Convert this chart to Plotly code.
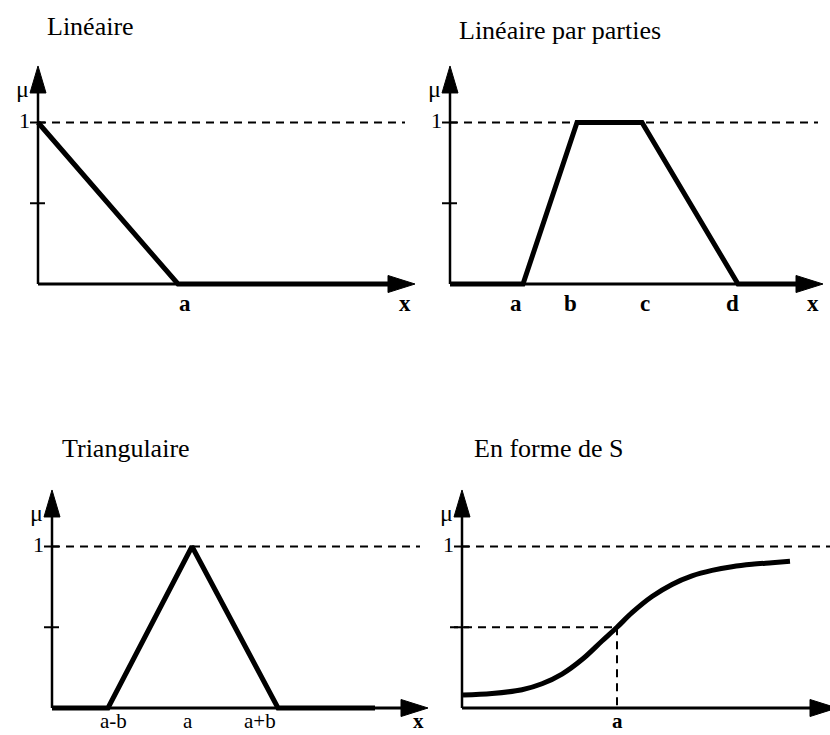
import plotly.graph_objects as go

# ---- Membership functions (x in abstract units, mu in [0, 1]) ----

# Linéaire
lin_x = [0.0, 14.0, 35.0]
lin_mu = [1.0, 0.0, 0.0]
lin_labels = ["a"]
lin_label_x = [14.0]

# Linéaire par parties (trapèze)
trap_x = [0.0, 7.3, 12.7, 19.2, 28.8, 34.8]
trap_mu = [0.0, 0.0, 1.0, 1.0, 0.0, 0.0]
trap_labels = ["a", "b", "c", "d"]
trap_label_x = [7.3, 12.7, 19.2, 28.8]

# Triangulaire
tri_x = [0.0, 5.6, 14.0, 22.6, 32.3]
tri_mu = [0.0, 0.0, 1.0, 0.0, 0.0]
tri_labels = ["a-b", "a", "a+b"]
tri_label_x = [5.6, 14.0, 22.6]

# En forme de S
s_x = [0.1, 3.0, 6.0, 8.0, 10.0, 12.0, 14.0, 15.5, 17.0, 19.0,
       21.0, 23.0, 25.0, 27.0, 29.0, 31.0, 32.8]
s_mu = [0.081, 0.090, 0.113, 0.150, 0.210, 0.300, 0.415, 0.500, 0.590, 0.690,
        0.765, 0.818, 0.852, 0.875, 0.890, 0.900, 0.909]
s_a = 15.5
s_a_mu = 0.5
s_labels = ["a"]
s_label_x = [15.5]

mu_ticks = [0.5, 1.0]
mu_top = 1.35

titles = ["Linéaire", "Linéaire par parties", "Triangulaire", "En forme de S"]

# ---- Layout geometry ----
W, H = 830, 735
PX_X = 10.0      # pixels per x unit
PX_MU = 161.5    # pixels per unit of mu
SERIF = "Liberation Serif, Times New Roman, serif"

panels = [
    dict(origin=(38, 284), box=(0, 45, 425, 320), x_end=37.7, dash_end=36.7,
         x=lin_x, mu=lin_mu, labels=lin_labels, lx=lin_label_x,
         lshift=[7], bold=True, xlab_shift=-10, title_pos=(45, 27),
         lab_y=-0.118, lab_size=23),
    dict(origin=(450, 284), box=(425, 45, 830, 320), x_end=37.3, dash_end=36.8,
         x=trap_x, mu=trap_mu, labels=trap_labels, lx=trap_label_x,
         lshift=[-7, -7, 3, -6], bold=True, xlab_shift=-10, title_pos=(457, 30),
         lab_y=-0.118, lab_size=23),
    dict(origin=(52, 708), box=(0, 470, 440, 735), x_end=37.6, dash_end=36.8,
         x=tri_x, mu=tri_mu, labels=tri_labels, lx=tri_label_x,
         lshift=[5, -4, -18], bold=False, xlab_shift=-10, title_pos=(60, 448),
         lab_y=-0.078, lab_size=21),
    dict(origin=(462, 708), box=(440, 470, 830, 735), x_end=37.5, dash_end=36.8,
         x=s_x, mu=s_mu, labels=s_labels, lx=s_label_x,
         lshift=[0], bold=True, xlab_shift=-12, title_pos=(472, 448), spline=True,
         lab_y=-0.078, lab_size=21),
]

fig = go.Figure()
shapes = []
annotations = []

for i, p in enumerate(panels, start=1):
    sfx = "" if i == 1 else str(i)
    xr, yr = "x" + sfx, "y" + sfx
    ox, oy = p["origin"]
    bx0, by0, bx1, by1 = p["box"]

    fig.layout["xaxis" + sfx] = dict(
        domain=[bx0 / W, bx1 / W],
        range=[(bx0 - ox) / PX_X, (bx1 - ox) / PX_X],
        visible=False, anchor=yr, fixedrange=True)
    fig.layout["yaxis" + sfx] = dict(
        domain=[1 - by1 / H, 1 - by0 / H],
        range=[(oy - by1) / PX_MU, (oy - by0) / PX_MU],
        visible=False, anchor=xr, fixedrange=True)

    # membership function
    fig.add_trace(go.Scatter(
        x=p["x"], y=p["mu"], mode="lines", xaxis=xr, yaxis=yr,
        line=dict(color="black", width=5,
                  shape="spline" if p.get("spline") else "linear",
                  smoothing=1.0),
        hoverinfo="skip", showlegend=False))

    # dashed reference at mu = 1
    shapes.append(dict(type="line", xref=xr, yref=yr, x0=0, x1=p["dash_end"],
                       y0=1, y1=1, line=dict(color="black", width=2, dash="8px,6px")))

    # axes
    shapes.append(dict(type="line", xref=xr, yref=yr, x0=0, x1=p["x_end"] - 2.0,
                       y0=0, y1=0, line=dict(color="black", width=3)))
    shapes.append(dict(type="line", xref=xr, yref=yr, x0=0, x1=0,
                       y0=0, y1=mu_top - 0.12, line=dict(color="black", width=2.5)))
    # arrowheads (pixel-sized, anchored at axis ends)
    shapes.append(dict(type="path", xref=xr, yref=yr, xsizemode="pixel",
                       ysizemode="pixel", xanchor=p["x_end"], yanchor=0,
                       path="M0,0 L-27,8.5 L-27,-8.5 Z", fillcolor="black",
                       line=dict(color="black", width=1)))
    shapes.append(dict(type="path", xref=xr, yref=yr, xsizemode="pixel",
                       ysizemode="pixel", xanchor=0, yanchor=mu_top,
                       path="M0,0 L-8,-27 L8,-27 Z", fillcolor="black",
                       line=dict(color="black", width=1)))
    # tick marks on the mu axis
    for t in mu_ticks:
        shapes.append(dict(type="line", xref=xr, yref=yr, xsizemode="pixel",
                           xanchor=0, x0=-8, x1=7, y0=t, y1=t,
                           line=dict(color="black", width=2)))

    # axis labels
    annotations.append(dict(xref=xr, yref=yr, x=0, y=1.0, text="1", showarrow=False,
                            xanchor="right", yanchor="middle", xshift=-6, yshift=2,
                            font=dict(family=SERIF, size=22, color="black")))
    annotations.append(dict(xref=xr, yref=yr, x=0, y=1.21, text="μ", showarrow=False,
                            xanchor="right", yanchor="middle", xshift=-7,
                            font=dict(family=SERIF, size=24, color="black")))
    for lab, lx, sh in zip(p["labels"], p["lx"], p["lshift"]):
        txt = "<b>%s</b>" % lab if p["bold"] else lab
        annotations.append(dict(xref=xr, yref=yr, x=lx, y=p["lab_y"], text=txt,
                                showarrow=False, xanchor="center", yanchor="middle",
                                xshift=sh,
                                font=dict(family=SERIF, size=p["lab_size"], color="black")))
    annotations.append(dict(xref=xr, yref=yr, x=p["x_end"], y=p["lab_y"], text="<b>x</b>",
                            showarrow=False, xanchor="center", yanchor="middle",
                            xshift=p["xlab_shift"],
                            font=dict(family=SERIF, size=p["lab_size"], color="black")))

    # panel title
    tx, ty = p["title_pos"]
    annotations.append(dict(xref="paper", yref="paper", x=tx / W, y=1 - ty / H,
                            text=titles[i - 1], showarrow=False,
                            xanchor="left", yanchor="middle",
                            font=dict(family=SERIF, size=26, color="black")))

# guide lines for the S curve at its midpoint
shapes.append(dict(type="line", xref="x4", yref="y4", x0=-1.2, x1=s_a,
                   y0=s_a_mu, y1=s_a_mu,
                   line=dict(color="black", width=2, dash="8px,6px")))
shapes.append(dict(type="line", xref="x4", yref="y4", x0=s_a, x1=s_a,
                   y0=s_a_mu, y1=0,
                   line=dict(color="black", width=2, dash="8px,6px")))

fig.update_layout(
    width=W, height=H,
    margin=dict(l=0, r=0, t=0, b=0),
    paper_bgcolor="white", plot_bgcolor="white",
    showlegend=False,
    shapes=shapes, annotations=annotations,
)

fig.write_html("out.html")
